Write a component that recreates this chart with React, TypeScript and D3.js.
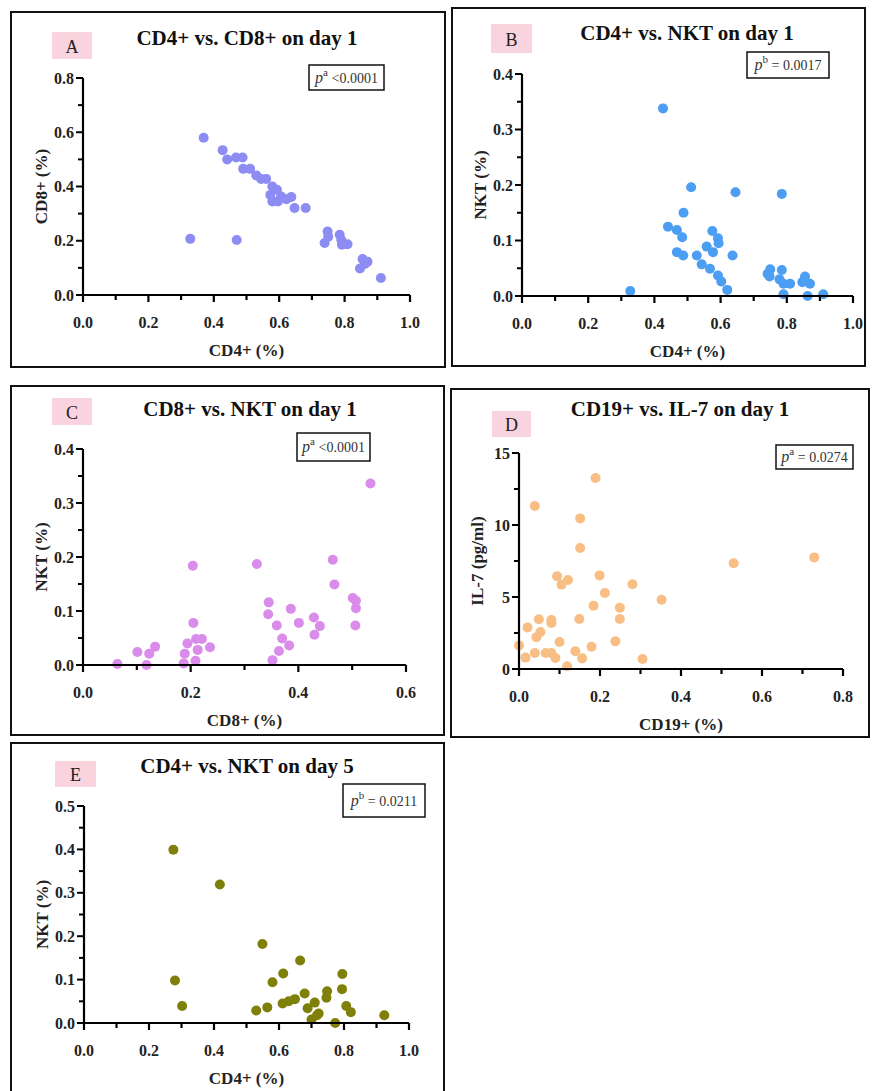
import React from "react";
import * as d3 from "d3";

const FONT = '"Liberation Serif", "Times New Roman", serif';

// ---------- Data ----------
// A: CD4+ vs CD8+ day 1
const aCD4 = [0.369, 0.427, 0.441, 0.468, 0.488, 0.490, 0.511, 0.530, 0.545, 0.560, 0.579, 0.593, 0.573, 0.579, 0.596, 0.606, 0.622, 0.637, 0.647, 0.681, 0.328, 0.470, 0.748, 0.750, 0.739, 0.785, 0.790, 0.792, 0.809, 0.855, 0.870, 0.847, 0.862, 0.911];
const aCD8 = [0.580, 0.534, 0.500, 0.507, 0.507, 0.465, 0.465, 0.441, 0.428, 0.428, 0.400, 0.388, 0.369, 0.345, 0.345, 0.363, 0.353, 0.361, 0.321, 0.321, 0.207, 0.203, 0.234, 0.215, 0.192, 0.222, 0.203, 0.185, 0.187, 0.133, 0.123, 0.098, 0.114, 0.063];

// B: CD4+ vs NKT day 1
const bCD4 = [0.426, 0.327, 0.511, 0.645, 0.785, 0.488, 0.441, 0.468, 0.484, 0.575, 0.592, 0.594, 0.558, 0.577, 0.468, 0.487, 0.528, 0.636, 0.543, 0.568, 0.592, 0.602, 0.620, 0.750, 0.742, 0.748, 0.785, 0.778, 0.790, 0.810, 0.790, 0.855, 0.847, 0.870, 0.863, 0.910];
const bNKT = [0.338, 0.009, 0.196, 0.187, 0.184, 0.150, 0.125, 0.119, 0.106, 0.117, 0.104, 0.095, 0.089, 0.079, 0.079, 0.073, 0.073, 0.073, 0.057, 0.049, 0.037, 0.026, 0.011, 0.048, 0.040, 0.035, 0.047, 0.030, 0.022, 0.022, 0.003, 0.035, 0.025, 0.022, 0.000, 0.003];

// C: CD8+ vs NKT day 1
const cCD8 = [0.534, 0.204, 0.323, 0.464, 0.467, 0.501, 0.507, 0.507, 0.506, 0.345, 0.344, 0.386, 0.360, 0.401, 0.429, 0.440, 0.430, 0.370, 0.383, 0.364, 0.352, 0.205, 0.194, 0.210, 0.221, 0.213, 0.236, 0.189, 0.187, 0.209, 0.064, 0.101, 0.123, 0.134, 0.118];
const cNKT = [0.336, 0.184, 0.187, 0.195, 0.149, 0.124, 0.119, 0.105, 0.073, 0.116, 0.094, 0.104, 0.073, 0.078, 0.088, 0.072, 0.056, 0.049, 0.036, 0.026, 0.009, 0.078, 0.040, 0.048, 0.048, 0.028, 0.033, 0.021, 0.003, 0.008, 0.002, 0.024, 0.021, 0.034, 0.000];

// D: CD19+ vs IL-7 day 1
const dCD19 = [0.189, 0.039, 0.151, 0.151, 0.530, 0.729, 0.094, 0.121, 0.105, 0.199, 0.280, 0.212, 0.352, 0.184, 0.249, 0.249, 0.149, 0.049, 0.080, 0.080, 0.053, 0.043, 0.021, 0.100, 0.238, 0.000, 0.179, 0.039, 0.066, 0.080, 0.090, 0.016, 0.139, 0.156, 0.305, 0.119];
const dIL7 = [13.26, 11.32, 10.46, 8.40, 7.34, 7.75, 6.44, 6.18, 5.86, 6.50, 5.88, 5.28, 4.81, 4.40, 4.26, 3.47, 3.47, 3.45, 3.40, 3.19, 2.57, 2.20, 2.89, 1.88, 1.92, 1.64, 1.55, 1.11, 1.11, 1.11, 0.76, 0.79, 1.23, 0.74, 0.69, 0.19];

// E: CD4+ vs NKT day 5
const eCD4 = [0.275, 0.418, 0.280, 0.302, 0.549, 0.665, 0.613, 0.580, 0.795, 0.794, 0.748, 0.746, 0.679, 0.649, 0.630, 0.611, 0.710, 0.688, 0.530, 0.564, 0.807, 0.821, 0.722, 0.717, 0.700, 0.773, 0.924];
const eNKT = [0.399, 0.319, 0.098, 0.039, 0.182, 0.144, 0.114, 0.094, 0.113, 0.078, 0.073, 0.058, 0.068, 0.055, 0.050, 0.045, 0.047, 0.034, 0.029, 0.036, 0.039, 0.025, 0.022, 0.018, 0.008, 0.000, 0.018];

// Ticks
const ticksUnit = [0, 0.2, 0.4, 0.6, 0.8, 1.0];
const ticksA_Y = [0, 0.2, 0.4, 0.6, 0.8];
const ticksNKT04 = [0, 0.1, 0.2, 0.3, 0.4];
const ticksC_X = [0, 0.2, 0.4, 0.6];
const ticksD_X = [0, 0.2, 0.4, 0.6, 0.8];
const ticksD_Y = [0, 5, 10, 15];
const ticksE_Y = [0, 0.1, 0.2, 0.3, 0.4, 0.5];

type Panel = {
  letter: string;
  title: string;
  pSup: string;
  pText: string;
  xLabel: string;
  yLabel: string;
  color: string;
  xs: number[];
  ys: number[];
  xDomain: [number, number];
  yDomain: [number, number];
  xTicks: number[];
  yTicks: number[];
  xMinor: number;
  yMinor: number;
  yFmt: string;
  box: [number, number, number, number];
  axis: [number, number, number, number]; // x0, x1, y0(bottom), y1(top)
  titlePos: [number, number];
  badge: [number, number, number, number];
  pBox: [number, number, number, number];
};

const panels: Panel[] = [
  {
    letter: "A", title: "CD4+ vs. CD8+ on day 1", pSup: "a", pText: " <0.0001",
    xLabel: "CD4+ (%)", yLabel: "CD8+ (%)", color: "#8c8cf3",
    xs: aCD4, ys: aCD8, xDomain: [0, 1], yDomain: [0, 0.8],
    xTicks: ticksUnit, yTicks: ticksA_Y, xMinor: 0.1, yMinor: 0.1, yFmt: ".1f",
    box: [11, 12, 434, 355], axis: [83, 410, 295, 78], titlePos: [247, 45],
    badge: [52, 32, 40, 27], pBox: [309, 65, 75, 25],
  },
  {
    letter: "B", title: "CD4+ vs. NKT on day 1", pSup: "b", pText: " = 0.0017",
    xLabel: "CD4+ (%)", yLabel: "NKT (%)", color: "#4b9ef2",
    xs: bCD4, ys: bNKT, xDomain: [0, 1], yDomain: [0, 0.4],
    xTicks: ticksUnit, yTicks: ticksNKT04, xMinor: 0.1, yMinor: 0.05, yFmt: ".1f",
    box: [452, 8, 413, 358], axis: [522, 853, 296, 74], titlePos: [687, 40],
    badge: [491, 24, 41, 29], pBox: [747, 52, 82, 26],
  },
  {
    letter: "C", title: "CD8+ vs. NKT on day 1", pSup: "a", pText: " <0.0001",
    xLabel: "CD8+ (%)", yLabel: "NKT (%)", color: "#da8ceb",
    xs: cCD8, ys: cNKT, xDomain: [0, 0.6], yDomain: [0, 0.4],
    xTicks: ticksC_X, yTicks: ticksNKT04, xMinor: 0.1, yMinor: 0.05, yFmt: ".1f",
    box: [11, 386, 433, 349], axis: [83, 406, 665, 449], titlePos: [250, 416],
    badge: [52, 398, 40, 27], pBox: [297, 433, 73, 28],
  },
  {
    letter: "D", title: "CD19+ vs. IL-7 on day 1", pSup: "a", pText: " = 0.0274",
    xLabel: "CD19+ (%)", yLabel: "IL-7 (pg/ml)", color: "#f8be84",
    xs: dCD19, ys: dIL7, xDomain: [0, 0.8], yDomain: [0, 15],
    xTicks: ticksD_X, yTicks: ticksD_Y, xMinor: 0.1, yMinor: 2.5, yFmt: "d",
    box: [451, 389, 418, 348], axis: [519, 843, 669, 453], titlePos: [680, 416],
    badge: [492, 411, 39, 26], pBox: [776, 445, 77, 24],
  },
  {
    letter: "E", title: "CD4+ vs. NKT on day 5", pSup: "b", pText: " = 0.0211",
    xLabel: "CD4+ (%)", yLabel: "NKT (%)", color: "#7f800a",
    xs: eCD4, ys: eNKT, xDomain: [0, 1], yDomain: [0, 0.5],
    xTicks: ticksUnit, yTicks: ticksE_Y, xMinor: 0.1, yMinor: 0.05, yFmt: ".1f",
    box: [11, 743, 433, 360], axis: [84, 409, 1023, 806], titlePos: [247, 773],
    badge: [55, 761, 41, 26], pBox: [343, 784, 82, 33],
  },
];

function ScatterPanel({ p }: { p: Panel }) {
  const [ax0, ax1, ay0, ay1] = p.axis;
  const x = d3.scaleLinear().domain(p.xDomain).range([ax0, ax1]);
  const y = d3.scaleLinear().domain(p.yDomain).range([ay0, ay1]);
  const xMinor = d3.range(p.xDomain[0], p.xDomain[1] + 1e-9, p.xMinor);
  const yMinor = d3.range(p.yDomain[0], p.yDomain[1] + 1e-9, p.yMinor);
  const xf = d3.format(".1f");
  const yf = d3.format(p.yFmt);
  const [bx, by, bw, bh] = p.box;
  const [gx, gy, gw, gh] = p.badge;
  const [px, py, pw, ph] = p.pBox;
  const yMid = (ay0 + ay1) / 2;
  return (
    <g>
      <rect x={bx} y={by} width={bw} height={bh} fill="#fff" stroke="#111" strokeWidth={2} />
      <rect x={gx} y={gy} width={gw} height={gh} fill="#f9d3de" />
      <text x={gx + gw / 2} y={gy + gh / 2 + 1} textAnchor="middle" dominantBaseline="central"
        fontFamily={FONT} fontSize={18} fill="#222">{p.letter}</text>
      <text x={p.titlePos[0]} y={p.titlePos[1]} textAnchor="middle" fontFamily={FONT}
        fontSize={21} fontWeight="bold" fill="#111">{p.title}</text>
      <rect x={px} y={py} width={pw} height={ph} fill="#fff" stroke="#111" strokeWidth={1.5} />
      <text x={px + pw / 2} y={py + ph / 2 + 5} textAnchor="middle" fontFamily={FONT}
        fontSize={14} fill="#333">
        <tspan fontStyle="italic" fontSize={16}>p</tspan>
        <tspan dy={-7} fontSize={11}>{p.pSup}</tspan>
        <tspan dy={7}>{p.pText}</tspan>
      </text>
      {/* points */}
      {p.xs.map((v, i) => (
        <circle key={i} cx={x(v)} cy={y(p.ys[i])} r={5} fill={p.color} />
      ))}
      {/* axes */}
      <line x1={ax0} x2={ax0} y1={ay1} y2={ay0} stroke="#000" strokeWidth={2.2} />
      <line x1={ax0} x2={ax1} y1={ay0} y2={ay0} stroke="#000" strokeWidth={2.2} />
      {xMinor.map((t, i) => {
        const major = p.xTicks.some((m) => Math.abs(m - t) < 1e-6);
        return <line key={"xm" + i} x1={x(t)} x2={x(t)} y1={ay0} y2={ay0 + (major ? 7 : 5)} stroke="#000" strokeWidth={2.2} />;
      })}
      {yMinor.map((t, i) => {
        const major = p.yTicks.some((m) => Math.abs(m - t) < 1e-6);
        return <line key={"ym" + i} x1={ax0 - (major ? 7 : 5)} x2={ax0} y1={y(t)} y2={y(t)} stroke="#000" strokeWidth={2} />;
      })}
      {p.xTicks.map((t, i) => (
        <text key={"xl" + i} x={x(t)} y={ay0 + 27} textAnchor="middle" dominantBaseline="central"
          fontFamily={FONT} fontSize={16} fontWeight="bold" fill="#222">{xf(t)}</text>
      ))}
      {p.yTicks.map((t, i) => (
        <text key={"yl" + i} x={ax0 - 9} y={y(t)} textAnchor="end" dominantBaseline="central"
          fontFamily={FONT} fontSize={16} fontWeight="bold" fill="#222">{yf(t)}</text>
      ))}
      <text x={(ax0 + ax1) / 2} y={ay0 + 55} textAnchor="middle" dominantBaseline="central"
        fontFamily={FONT} fontSize={17} fontWeight="bold" fill="#222">{p.xLabel}</text>
      <text transform={`translate(${ax0 - 42},${yMid}) rotate(-90)`} textAnchor="middle"
        dominantBaseline="central" fontFamily={FONT} fontSize={17} fontWeight="bold" fill="#222">{p.yLabel}</text>
    </g>
  );
}

export default function App() {
  return (
    <svg width={872} height={1091} style={{ position: "absolute", left: 0, top: 0, background: "#fff" }}>
      <rect x={0} y={0} width={872} height={1091} fill="#fff" />
      {panels.map((p) => (
        <ScatterPanel key={p.letter} p={p} />
      ))}
    </svg>
  );
}
